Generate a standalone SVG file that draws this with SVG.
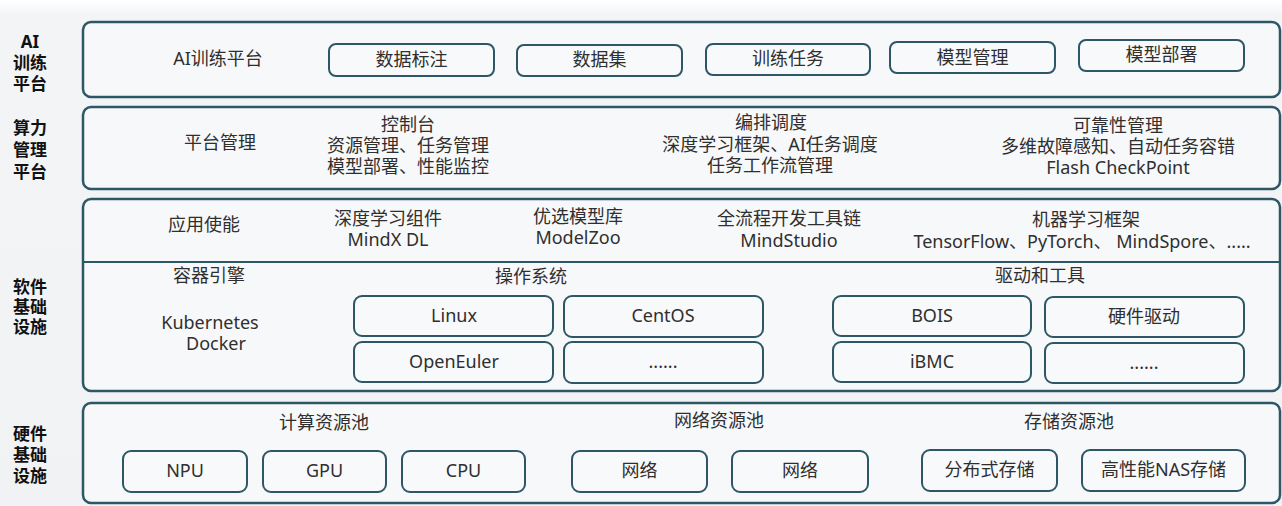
<svg xmlns="http://www.w3.org/2000/svg" width="1282" height="506" viewBox="0 0 1282 506">
<defs>
<linearGradient id="bg" x1="0" y1="0" x2="0" y2="1">
<stop offset="0" stop-color="#ffffff"/>
<stop offset="0.03" stop-color="#f3f4f6"/>
<stop offset="1" stop-color="#f1f2f4"/>
</linearGradient>
</defs>
<style>
.layer{fill:#f7f8f9;stroke:#2d5767;stroke-width:2.5}
.box{fill:#f8f9fa;stroke:#2d5767;stroke-width:2}
.div{stroke:#2d5767;stroke-width:2}
text{font-family:"Noto Sans","Noto Sans CJK SC",sans-serif;font-size:18px;fill:#2f2f2f;text-anchor:middle}
.side{font-weight:bold;font-size:17px;fill:#111}
</style>
<rect x="0" y="0" width="1282" height="506" fill="url(#bg)"/>

<g id="side-labels">
<text class="side" x="30" y="48">AI</text>
<text class="side" x="30" y="69">训练</text>
<text class="side" x="30" y="90">平台</text>
<text class="side" x="30" y="134">算力</text>
<text class="side" x="30" y="156">管理</text>
<text class="side" x="30" y="178">平台</text>
<text class="side" x="30" y="293">软件</text>
<text class="side" x="30" y="313">基础</text>
<text class="side" x="30" y="333">设施</text>
<text class="side" x="30" y="440">硬件</text>
<text class="side" x="30" y="461">基础</text>
<text class="side" x="30" y="482">设施</text>
</g>

<g id="ai-platform">
<rect class="layer" x="83" y="22" width="1197" height="75" rx="8"/>
<text x="218" y="65">AI训练平台</text>
<g id="n-data-label"><rect class="box" x="329" y="44" width="165" height="32" rx="7"/><text x="411.5" y="66">数据标注</text></g>
<g id="n-dataset"><rect class="box" x="517" y="45" width="165" height="31" rx="7"/><text x="599.5" y="66">数据集</text></g>
<g id="n-train"><rect class="box" x="706" y="44" width="164" height="31" rx="7"/><text x="788" y="65">训练任务</text></g>
<g id="n-model-mgmt"><rect class="box" x="890" y="42" width="165" height="31" rx="7"/><text x="972.5" y="64">模型管理</text></g>
<g id="n-model-deploy"><rect class="box" x="1079" y="40" width="165" height="31" rx="7"/><text x="1161.5" y="61">模型部署</text></g>
</g>

<g id="compute-mgmt">
<rect class="layer" x="83" y="107" width="1197" height="82" rx="8"/>
<text x="220" y="149">平台管理</text>
<text x="408" y="131">控制台</text>
<text x="408" y="152">资源管理、任务管理</text>
<text x="408" y="173">模型部署、性能监控</text>
<text x="771" y="129">编排调度</text>
<text x="770" y="151">深度学习框架、AI任务调度</text>
<text x="770" y="172">任务工作流管理</text>
<text x="1118" y="132">可靠性管理</text>
<text x="1118" y="153">多维故障感知、自动任务容错</text>
<text x="1118" y="174">Flash CheckPoint</text>
</g>

<g id="software-infra">
<rect class="layer" x="83" y="199" width="1197" height="192" rx="8"/>
<line class="div" x1="84" y1="262" x2="1279" y2="262"/>
<text x="204" y="231">应用使能</text>
<text x="388" y="225">深度学习组件</text>
<text x="388" y="246">MindX DL</text>
<text x="578" y="223">优选模型库</text>
<text x="578" y="244">ModelZoo</text>
<text x="789" y="225">全流程开发工具链</text>
<text x="789" y="247">MindStudio</text>
<text x="1086" y="226">机器学习框架</text>
<text x="1082" y="248">TensorFlow、PyTorch、 MindSpore、.....</text>
<text x="209" y="282">容器引擎</text>
<text x="210" y="329">Kubernetes</text>
<text x="216" y="350">Docker</text>
<text x="531" y="283">操作系统</text>
<text x="1040" y="282">驱动和工具</text>
<g id="n-linux"><rect class="box" x="354" y="296" width="199" height="40" rx="8"/><text x="454" y="322">Linux</text></g>
<g id="n-centos"><rect class="box" x="564" y="296" width="199" height="41" rx="8"/><text x="663" y="322">CentOS</text></g>
<g id="n-openeuler"><rect class="box" x="354" y="342" width="199" height="40" rx="8"/><text x="454" y="368">OpenEuler</text></g>
<g id="n-os-more"><rect class="box" x="564" y="342" width="199" height="41" rx="8"/><text x="663" y="368">......</text></g>
<g id="n-bois"><rect class="box" x="833" y="296" width="198" height="40" rx="8"/><text x="932" y="322">BOIS</text></g>
<g id="n-hwdriver"><rect class="box" x="1045" y="297" width="199" height="40" rx="8"/><text x="1144" y="323">硬件驱动</text></g>
<g id="n-ibmc"><rect class="box" x="833" y="342" width="198" height="40" rx="8"/><text x="932" y="368">iBMC</text></g>
<g id="n-drv-more"><rect class="box" x="1045" y="343" width="199" height="40" rx="8"/><text x="1144" y="369">......</text></g>
</g>

<g id="hardware-infra">
<rect class="layer" x="83" y="403" width="1197" height="100" rx="8"/>
<text x="324" y="429">计算资源池</text>
<text x="719" y="427">网络资源池</text>
<text x="1069" y="428">存储资源池</text>
<g id="n-npu"><rect class="box" x="123" y="451" width="124" height="41" rx="8"/><text x="185" y="477">NPU</text></g>
<g id="n-gpu"><rect class="box" x="263" y="451" width="123" height="41" rx="8"/><text x="324.5" y="477">GPU</text></g>
<g id="n-cpu"><rect class="box" x="402" y="451" width="123" height="41" rx="8"/><text x="463.5" y="477">CPU</text></g>
<g id="n-net1"><rect class="box" x="572" y="451" width="135" height="41" rx="8"/><text x="639.5" y="477">网络</text></g>
<g id="n-net2"><rect class="box" x="732" y="451" width="136" height="41" rx="8"/><text x="800" y="477">网络</text></g>
<g id="n-dist-storage"><rect class="box" x="922" y="450" width="135" height="41" rx="8"/><text x="989.5" y="476">分布式存储</text></g>
<g id="n-nas"><rect class="box" x="1082" y="450" width="163" height="41" rx="8"/><text x="1163.5" y="476">高性能NAS存储</text></g>
</g>

<g id="connectors"></g>
</svg>
